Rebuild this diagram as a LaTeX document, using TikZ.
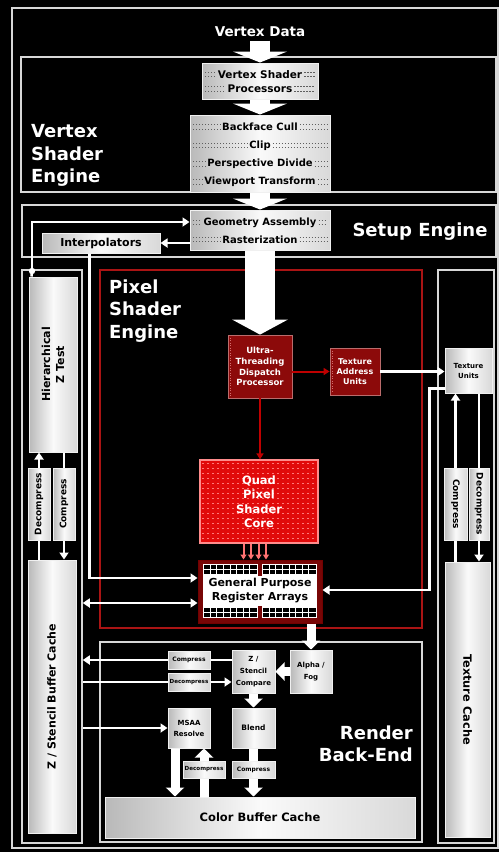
\documentclass[tikz,border=0pt]{standalone}
\usepackage{fontspec}
\setmainfont{DejaVu Sans}
\usetikzlibrary{arrows.meta,calc}
\definecolor{utred}{RGB}{140,10,10}
\definecolor{utedge}{RGB}{215,110,110}
\definecolor{quadred}{RGB}{225,10,10}
\definecolor{quaddot}{RGB}{255,120,120}
\definecolor{framered}{RGB}{170,20,20}
\definecolor{gprred}{RGB}{120,6,6}
\definecolor{framegray}{RGB}{215,215,215}
\definecolor{dotgray}{RGB}{95,95,95}
\newcommand{\fsz}[2]{\fontsize{#1}{#2}\selectfont\bfseries}
\newcommand{\dotrow}[2]{%
  \foreach \dy in {-2.3,2.3}{%
    \draw[dotline] ($(#1.west |- #2)+(3.5,\dy)$) -- ($(#2.west)+(-1,\dy)$);
    \draw[dotline] ($(#2.east)+(1,\dy)$) -- ($(#1.east |- #2)+(-3.5,\dy)$);
  }}
\tikzset{
  frm/.style={draw=framegray, line width=1.5pt},
  gbox/.style={draw=white!88!gray, line width=1pt, left color=gray!55, right color=gray!30, middle color=white!96!gray, text=black, align=center, inner sep=0pt},
  rowtxt/.style={text=black, inner sep=1pt, font=\fsz{10}{12}},
  vtxt/.style={text=black, align=center, inner sep=0pt},
  dotline/.style={draw=dotgray, line width=1.3pt, dash pattern=on 1.3pt off 1.7pt},
  biglabel/.style={text=white, inner sep=0pt, font=\fsz{18}{22.5}},
  tline/.style={draw=white, line width=2.6pt},
  tarr/.style={tline, -{Triangle[width=9pt,length=7pt]}},
  tarrb/.style={tline, {Triangle[width=9pt,length=7pt]}-{Triangle[width=9pt,length=7pt]}},
  marr/.style={draw=white, line width=9pt, -{Triangle[width=18pt,length=9pt]}},
  mline/.style={draw=white, line width=9pt},
  barr/.style={draw=white, line width=20pt, -{Triangle[width=54pt,length=11pt]}},
  harr/.style={draw=white, line width=30pt, -{Triangle[width=55pt,length=15pt]}},
  redbox/.style={fill=utred, draw=utred!60!white, line width=0.8pt, text=white, align=center, inner sep=0pt},
  rarr/.style={draw=red!75!black, line width=2pt, -{Triangle[width=7pt,length=6pt]}},
  qarr/.style={draw=red!55!white, line width=2pt, -{Triangle[width=6pt,length=5pt]}},
}
\begin{document}
\begin{tikzpicture}[x=1pt,y=-1pt]
\useasboundingbox (0,0) rectangle (499,852);
\fill[black] (0,0) rectangle (499,852);
% frames
\draw[frm] (12,8) rectangle (498,848);
\draw[frm] (21,57) rectangle (496,192);
\draw[frm] (22,205) rectangle (496,257);
\node[frm, minimum width=60pt, minimum height=573pt, inner sep=0pt] (lcol) at (52,556.5) {};
\node[frm, minimum width=56pt, minimum height=573pt, inner sep=0pt] (rcol) at (466,556.5) {};
\draw[draw=framered, line width=1.8pt] (100,270) rectangle (422,628);
\draw[frm] (100,642) rectangle (422,842);
% labels
\node[text=white, font=\fsz{13.5}{16}] (vdata) at (260,32) {Vertex Data};
\node[biglabel, anchor=west, align=left] (vselabel) at (31,155.5) {Vertex\\Shader\\Engine};
\node[biglabel] (setuplabel) at (420,232) {Setup Engine};
\node[biglabel, anchor=west, align=left] (pselabel) at (109,311) {Pixel\\Shader\\Engine};
\node[biglabel, anchor=east, align=right] (rbelabel) at (413,744) {Render\\Back-End};
% vertex shader processors
\node[gbox, minimum width=116pt, minimum height=36pt] (vsp) at (260,81) {};
\node[rowtxt, font=\fsz{10.5}{12}] (vsp1) at (260,74.5) {Vertex Shader};
\node[rowtxt, font=\fsz{10.5}{12}] (vsp2) at (260,89) {Processors};
\dotrow{vsp}{vsp1}\dotrow{vsp}{vsp2}
% backface
\node[gbox, minimum width=140pt, minimum height=77pt] (bfc) at (260,153.5) {};
\node[rowtxt] (bfc1) at (260,127) {Backface Cull};
\node[rowtxt] (bfc2) at (260,145.5) {Clip};
\node[rowtxt] (bfc3) at (260,164) {Perspective Divide};
\node[rowtxt] (bfc4) at (260,182) {Viewport Transform};
\dotrow{bfc}{bfc1}\dotrow{bfc}{bfc2}\dotrow{bfc}{bfc3}\dotrow{bfc}{bfc4}
% geometry
\node[gbox, minimum width=140pt, minimum height=40pt] (geom) at (260,230) {};
\node[rowtxt] (geom1) at (260,222.5) {Geometry Assembly};
\node[rowtxt] (geom2) at (260,239.5) {Rasterization};
\dotrow{geom}{geom1}\dotrow{geom}{geom2}
% interpolators
\node[gbox, minimum width=118pt, minimum height=20pt, font=\fsz{11}{13}] (interp) at (101,243) {Interpolators};
% red boxes
\node[redbox, minimum width=64pt, minimum height=63pt, font=\fsz{8.5}{10.8}] (ut) at (260,366.5) {Ultra-\\Threading\\Dispatch\\Processor};
\draw[utedge, line width=1.2pt, dash pattern=on 1pt off 1.5pt] ($(ut.north west)+(2.5,3)$) -- ($(ut.south west)+(2.5,-3)$);
\node[redbox, minimum width=50pt, minimum height=47pt, font=\fsz{8}{10}] (tau) at (355,371.5) {Texture\\Address\\Units};
\draw[utedge, line width=1.2pt, dash pattern=on 1pt off 1.5pt] ($(tau.north west)+(2.5,3)$) -- ($(tau.south west)+(2.5,-3)$);
\node[gbox, minimum width=47pt, minimum height=45pt, font=\fsz{7}{10}] (tu) at (468.5,370.5) {Texture\\Units};
% quad core
\node[fill=quadred, draw=red!45!white, line width=1.2pt, minimum width=118pt, minimum height=83pt, inner sep=0pt] (quad) at (259,501.5) {};
\begin{scope}[shift={(quad.north west)}]
\foreach \j in {4,9,...,80} \draw[quaddot, line width=1.2pt, dash pattern=on 1.2pt off 3.8pt] (3,\j) -- (115,\j);
\end{scope}
\node[text=white, align=center, font=\fsz{11.5}{14.5}] (quadt) at (quad) {Quad\\Pixel\\Shader\\Core};
% GPR
\node[fill=gprred, draw=red!45!black, line width=1pt, minimum width=124pt, minimum height=63pt, inner sep=0pt] (gpr) at (260,591.5) {};
\begin{scope}[shift={(gpr.north west)}]
 \fill[white] (5,4) rectangle (60,58);
 \fill[white] (64,4) rectangle (119,58);
 \fill[white] (5,16) rectangle (119,46);
 \foreach \a/\b in {6/59,65/118} {
   \fill[black] (\a,5) rectangle (\b,14);
   \fill[black] (\a,48) rectangle (\b,57);
   \draw[white, line width=0.6pt] (\a,9.5) -- (\b,9.5);
   \draw[white, line width=0.6pt] (\a,52.5) -- (\b,52.5);
   \foreach \k in {1,...,7} {
     \draw[white, line width=0.6pt] (\a+\k*6.6,5) -- (\a+\k*6.6,14);
     \draw[white, line width=0.6pt] (\a+\k*6.6,48) -- (\a+\k*6.6,57);
   }
 }
\end{scope}
\node[text=black, align=center, font=\fsz{11}{14}] (gprt) at ($(gpr.center)+(0,-1.5)$) {General Purpose\\Register Arrays};
% left column
\node[gbox, minimum width=48pt, minimum height=175pt] (hz) at (53,364.5) {};
\node[vtxt, rotate=90, font=\fsz{11}{14}] (hzt) at (hz) {Hierarchical\\Z Test};
\node[gbox, minimum width=22pt, minimum height=72pt] (ldcp) at (39,504) {};
\node[vtxt, rotate=90, font=\fsz{9}{10}] (ldcpt) at (ldcp) {Decompress};
\node[gbox, minimum width=22pt, minimum height=72pt] (lcmp) at (64,504) {};
\node[vtxt, rotate=90, font=\fsz{9}{10}] (lcmpt) at (lcmp) {Compress};
\node[gbox, minimum width=48pt, minimum height=273pt] (zc) at (52,696.5) {};
\node[vtxt, rotate=90, font=\fsz{11}{13}] (zct) at (zc) {Z / Stencil Buffer Cache};
% right column
\node[gbox, minimum width=23pt, minimum height=72pt] (rcmp) at (455.5,504) {};
\node[vtxt, rotate=-90, font=\fsz{9}{10}] (rcmpt) at (rcmp) {Compress};
\node[gbox, minimum width=20pt, minimum height=72pt] (rdcp) at (479,504) {};
\node[vtxt, rotate=-90, font=\fsz{9}{10}] (rdcpt) at (rdcp) {Decompress};
\node[gbox, minimum width=45pt, minimum height=275pt] (tc) at (467.5,699.5) {};
\node[vtxt, rotate=-90, font=\fsz{11.4}{13}] (tct) at (tc) {Texture Cache};
% render back-end
\node[gbox, minimum width=42pt, minimum height=18pt, font=\fsz{6}{7}] (cmp1) at (189,660) {Compress};
\node[gbox, minimum width=42pt, minimum height=18pt, font=\fsz{5.6}{7}] (dcp1) at (189,682) {Decompress};
\node[gbox, minimum width=43pt, minimum height=43pt, font=\fsz{7}{12}] (zcomp) at (253.5,671.5) {Z /\\Stencil\\Compare};
\node[gbox, minimum width=42pt, minimum height=43pt, font=\fsz{7}{12}] (af) at (311,671.5) {Alpha /\\Fog};
\node[gbox, minimum width=43pt, minimum height=40pt, font=\fsz{7.5}{10}] (blend) at (253.5,728) {Blend};
\node[gbox, minimum width=42pt, minimum height=40pt, font=\fsz{7}{11}] (msaa) at (189,728) {MSAA\\Resolve};
\node[gbox, minimum width=42pt, minimum height=17pt, font=\fsz{5.6}{7}] (dcp2) at (204,769.5) {Decompress};
\node[gbox, minimum width=43pt, minimum height=17pt, font=\fsz{6}{7}] (cmp2) at (253.5,769.5) {Compress};
\node[gbox, minimum width=310pt, minimum height=41pt, font=\fsz{11.5}{13}] (cbc) at (260,817.5) {Color Buffer Cache};
% block arrows
\draw[barr] (vdata.south) -- (vsp.north);
\draw[barr] (vsp.south) -- (bfc.north);
\draw[barr] (bfc.south) -- (geom.north);
\draw[harr] (geom.south) -- (ut.north);
\draw[marr] (gpr.south -| af) -- (af.north);
\draw[marr] (af.west) -- (af.west -| zcomp.east);
\draw[marr] (zcomp.south) -- (blend.north);
\coordinate (msaaout) at ($(msaa.south)+(-14,0)$);
\draw[marr] (msaaout) -- (msaaout |- cbc.north);
\draw[mline] (cbc.north -| dcp2) -- (dcp2.south);
\draw[marr] (dcp2.north) -- (dcp2.north |- msaa.south);
\draw[mline] (blend.south) -- (cmp2.north);
\draw[marr] (cmp2.south) -- (cmp2.south |- cbc.north);
% setup connectors
\coordinate (hzj) at (32,271);
\coordinate (geomin) at ($(geom.west)+(0,-8)$);
\draw[tline] ($(hz.north west)+(3,0)$) -- (hzj);
\draw[tarr] (hzj) |- (geomin);
\fill[white] (hzj) circle (3.2);
\draw[tarr] (geom.west |- interp.east) -- (interp.east);
\coordinate (gprin1) at ($(gpr.west)+(0,-13.5)$);
\draw[tarr] ($(interp.south west)+(48,0)$) |- (gprin1);
\coordinate (gprin2) at ($(gpr.west)+(0,11.5)$);
\draw[tarrb] (lcol.east |- gprin2) -- (gprin2);
% left column connectors
\draw[tarr] (ldcp.north) -- (ldcp.north |- hz.south);
\draw[tline] (zc.north -| ldcp) -- (ldcp.south);
\draw[tline] (hz.south -| lcmp) -- (lcmp.north);
\draw[tarr] (lcmp.south) -- (lcmp.south |- zc.north);
% render back-end thin connectors
\draw[tline] (zcomp.west |- cmp1.east) -- (cmp1.east);
\draw[tarr] (cmp1.west) -- (cmp1.west -| lcol.east);
\draw[tline] (dcp1.west -| lcol.east) -- (dcp1.west);
\draw[tarr] (dcp1.east) -- (dcp1.east -| zcomp.west);
\draw[tarr] (msaa.west -| lcol.east) -- (msaa.west);
% texture path
\draw[tarr] (tau.east) -- (tau.east -| tu.west);
\coordinate (tuo) at ($(tu.south west)+(0,-5)$);
\coordinate (gprr) at ($(gpr.east)+(0,-1.5)$);
\draw[tarr] (tuo) -- ++(-15,0) |- (gprr);
\draw[tarr] (rcmp.north) -- (rcmp.north |- tu.south);
\draw[tline] (tc.north -| rcmp) -- (rcmp.south);
\draw[tline] (tu.south -| rdcp) -- (rdcp.north);
\draw[tarr] (rdcp.south) -- (rdcp.south |- tc.north);
% red connectors
\draw[rarr] (ut.east |- tau.west) -- (tau.west);
\draw[rarr] (ut.south) -- (ut.south |- quad.north);
\foreach \dx in {-15.5,-8,-0.5,7} {
  \draw[qarr] ($(quad.south)+(\dx,0)$) coordinate (qa) -- (qa |- gpr.north);
}
\end{tikzpicture}
\end{document}
